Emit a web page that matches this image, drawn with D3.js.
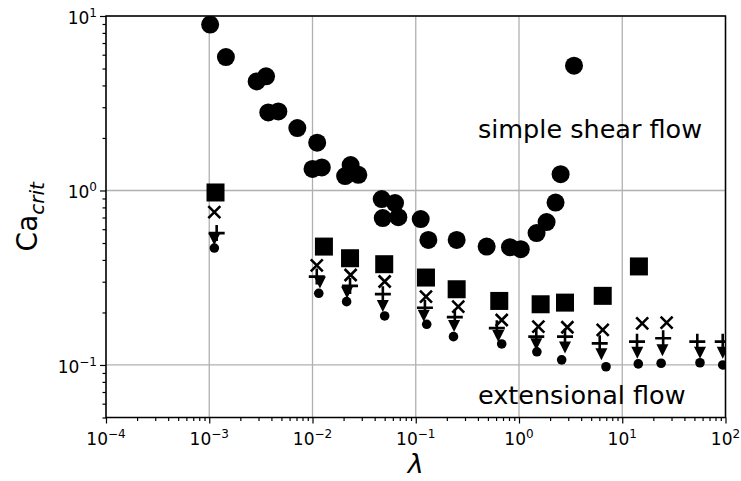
<!DOCTYPE html>
<html>
<head>
<meta charset="utf-8">
<script src="https://cdn.jsdelivr.net/npm/d3@7"></script>
<style>
body{margin:0;background:#fff}
text{font-family:"DejaVu Sans",sans-serif;fill:#000}
</style>
</head>
<body>
<svg id="chart" width="741" height="481"></svg>
<script>
// simple shear flow (big circles)
var shearX=[1.02e-3,1.45e-3,2.88e-3,3.55e-3,3.73e-3,4.67e-3,7.13e-3,1.11e-2,1.0e-2,1.23e-2,2.07e-2,2.34e-2,2.78e-2,4.68e-2,6.3e-2,4.79e-2,6.78e-2,0.1117,0.1325,0.249,0.486,0.818,1.04,1.48,1.85,2.26,2.53,3.41];
var shearY=[8.93,5.82,4.22,4.51,2.80,2.84,2.28,1.88,1.33,1.355,1.21,1.40,1.23,0.893,0.847,0.695,0.703,0.686,0.521,0.521,0.477,0.473,0.461,0.570,0.659,0.853,1.24,5.19];

// extensional flow series
var squareX=[1.15e-3,1.29e-2,2.31e-2,4.95e-2,0.1256,0.249,0.644,1.62,2.79,6.47,14.5];
var squareY=[0.974,0.477,0.409,0.378,0.317,0.2716,0.2328,0.2228,0.2277,0.249,0.367];

var crossX=[1.12e-3,1.10e-2,2.34e-2,5.0e-2,0.1256,0.258,0.68,1.54,2.94,6.47,15.6,26.9];
var crossY=[0.751,0.372,0.328,0.301,0.2466,0.216,0.181,0.166,0.1645,0.159,0.1733,0.175];

var plusX=[1.18e-3,1.10e-2,2.31e-2,4.8e-2,0.1227,0.239,0.61,1.47,2.79,6.05,13.9,24.9,53.3,94];
var plusY=[0.570,0.321,0.284,0.2546,0.213,0.188,0.1626,0.1453,0.1453,0.133,0.136,0.1423,0.136,0.136];

var triX=[1.12e-3,1.18e-2,2.16e-2,4.8e-2,0.1195,0.235,0.63,1.47,2.79,6.28,14.0,24.5,56.6,94];
var triY=[0.533,0.301,0.264,0.221,0.1937,0.1696,0.1487,0.133,0.1274,0.1167,0.119,0.123,0.119,0.119];

var dotX=[1.12e-3,1.15e-2,2.14e-2,5.0e-2,0.1277,0.232,0.68,1.49,2.59,6.96,14.3,23.8,56.6,94];
var dotY=[0.468,0.2575,0.2307,0.191,0.171,0.1453,0.132,0.119,0.107,0.0977,0.1014,0.1023,0.103,0.10];

var xMajor=[1e-4,1e-3,1e-2,1e-1,1,10,100];
var xExp=["−4","−3","−2","−1","0","1","2"];
var yMajor=[0.1,1,10];
var yExp=["−1","0","1"];

var svg=d3.select("#chart");
var L=106,R=725.5,T=16,B=417.5;

var x=d3.scaleLog().domain([1e-4,100]).range([L,R]);
var y=d3.scaleLog().domain([0.05,10]).range([B,T]);

svg.append("defs").append("clipPath").attr("id","clip")
  .append("rect").attr("x",L).attr("y",T).attr("width",R-L).attr("height",B-T);

// grid
svg.append("g").selectAll("line").data(xMajor).enter().append("line")
  .attr("x1",function(d){return x(d);}).attr("x2",function(d){return x(d);})
  .attr("y1",T).attr("y2",B)
  .attr("stroke","#b0b0b0").attr("stroke-width",1.3);
svg.append("g").selectAll("line").data(yMajor).enter().append("line")
  .attr("y1",function(d){return y(d);}).attr("y2",function(d){return y(d);})
  .attr("x1",L).attr("x2",R)
  .attr("stroke","#b0b0b0").attr("stroke-width",1.3);

// axes
function isMajor(d){return Math.abs(Math.log10(d)-Math.round(Math.log10(d)))<1e-6;}

var xAxis=d3.axisBottom(x).tickValues(x.ticks()).tickSize(6).tickFormat("");
var gx=svg.append("g").attr("transform","translate(0,"+B+")").call(xAxis);
var yAxis=d3.axisLeft(y).tickValues(y.ticks()).tickSize(6).tickFormat("");
var gy=svg.append("g").attr("transform","translate("+L+",0)").call(yAxis);
gx.select(".domain").remove();
gy.select(".domain").remove();
gx.selectAll(".tick line").attr("stroke","#000").attr("stroke-width",1.2)
  .attr("y2",function(d){return isMajor(d)?6:3.5;});
gy.selectAll(".tick line").attr("stroke","#000").attr("stroke-width",1.2)
  .attr("x2",function(d){return isMajor(d)?-6:-3.5;});

// tick labels with superscripts
var xl=svg.append("g").selectAll("text").data(xMajor).enter().append("text")
  .attr("x",function(d){return x(d);}).attr("y",B+27)
  .attr("text-anchor","middle").style("font-size","17px");
xl.append("tspan").text("10");
xl.append("tspan").attr("dy",-7).style("font-size","12px").text(function(d,i){return xExp[i];});

var yl=svg.append("g").selectAll("text").data(yMajor).enter().append("text")
  .attr("x",L-9).attr("y",function(d){return y(d)+8;})
  .attr("text-anchor","end").style("font-size","17px");
yl.append("tspan").text("10");
yl.append("tspan").attr("dy",-7).style("font-size","12px").text(function(d,i){return yExp[i];});

// frame
svg.append("rect").attr("x",L).attr("y",T).attr("width",R-L).attr("height",B-T)
  .attr("fill","none").attr("stroke","#000").attr("stroke-width",1.5);

// markers
var pts=svg.append("g").attr("clip-path","url(#clip)");

pts.selectAll(".shear").data(shearX).enter().append("circle")
  .attr("cx",function(d){return x(d);})
  .attr("cy",function(d,i){return y(shearY[i]);})
  .attr("r",9).attr("fill","#000");

pts.selectAll(".sq").data(squareX).enter().append("rect")
  .attr("x",function(d){return x(d)-9;})
  .attr("y",function(d,i){return y(squareY[i])-9;})
  .attr("width",18).attr("height",18).attr("fill","#000");

pts.selectAll(".cr").data(crossX).enter().append("path")
  .attr("transform",function(d,i){return "translate("+x(d)+","+y(crossY[i])+")";})
  .attr("d","M-6,-6L6,6M-6,6L6,-6")
  .attr("stroke","#000").attr("stroke-width",2.6).attr("fill","none");

pts.selectAll(".pl").data(plusX).enter().append("path")
  .attr("transform",function(d,i){return "translate("+x(d)+","+y(plusY[i])+")";})
  .attr("d","M-8,0L8,0M0,-8L0,8")
  .attr("stroke","#000").attr("stroke-width",2.6).attr("fill","none");

pts.selectAll(".tr").data(triX).enter().append("path")
  .attr("transform",function(d,i){return "translate("+x(d)+","+y(triY[i])+")";})
  .attr("d","M-6,-5L6,-5L0,7Z").attr("fill","#000");

pts.selectAll(".dot").data(dotX).enter().append("circle")
  .attr("cx",function(d){return x(d);})
  .attr("cy",function(d,i){return y(dotY[i]);})
  .attr("r",4.8).attr("fill","#000");

// annotations
svg.append("text").attr("x",x(0.4)).attr("y",y(2)).style("font-size","25.5px").text("simple shear flow");
svg.append("text").attr("x",x(0.4)).attr("y",y(0.06)).style("font-size","25.5px").text("extensional flow");

// axis labels
svg.append("text").attr("x",(L+R)/2).attr("y",473).attr("text-anchor","middle")
  .style("font-size","27px").style("font-style","italic").text("λ");

var yt=svg.append("text").attr("transform","translate(37,"+((T+B)/2)+") rotate(-90)")
  .attr("text-anchor","middle").style("font-size","28px");
yt.append("tspan").text("Ca");
yt.append("tspan").attr("dy",7).style("font-size","20px").style("font-style","italic").text("crit");
</script>
</body>
</html>
